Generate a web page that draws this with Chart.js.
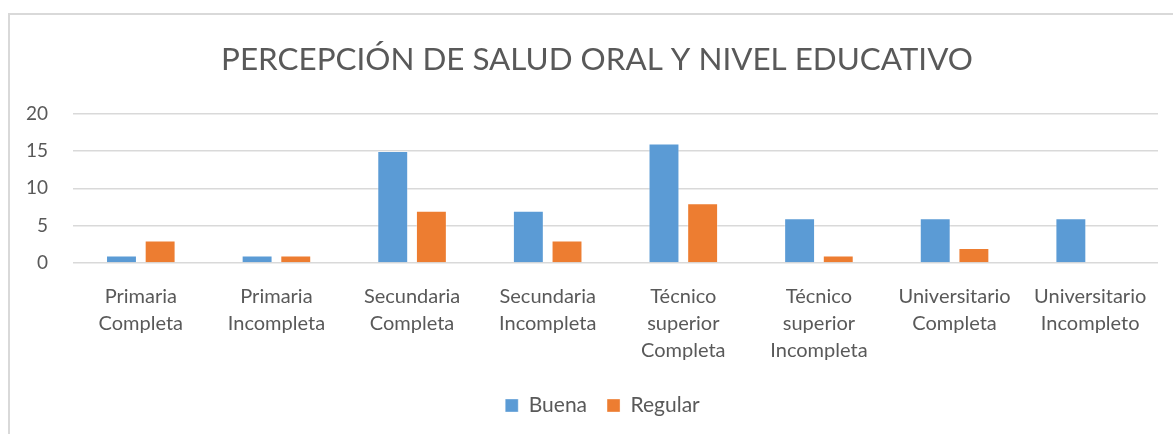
<!DOCTYPE html>
<html>
<head>
<meta charset="utf-8">
<script src="https://cdn.jsdelivr.net/npm/chart.js@4/dist/chart.umd.min.js"></script>
<style>
  html, body { margin: 0; padding: 0; background: #fff; }
  #wrap { position: relative; width: 1173px; height: 434px; }
  canvas { display: block; }
</style>
</head>
<body>
<div id="wrap"><canvas id="c" width="1173" height="434"></canvas></div>
<script>
const categories = [
  ["Primaria", "Completa"],
  ["Primaria", "Incompleta"],
  ["Secundaria", "Completa"],
  ["Secundaria", "Incompleta"],
  ["Técnico", "superior", "Completa"],
  ["Técnico", "superior", "Incompleta"],
  ["Universitario", "Completa"],
  ["Universitario", "Incompleto"]
];
const buena = [1, 1, 15, 7, 16, 6, 6, 6];
const regular = [3, 1, 7, 3, 8, 1, 2, 0];
const seriesNames = ["Buena", "Regular"];
const titleText = "PERCEPCIÓN DE SALUD ORAL Y NIVEL EDUCATIVO";
const yTicks = [0, 5, 10, 15, 20];

const FONT = "Lato, 'Open Sans', sans-serif";
const TXT = "#595959";

const framePlugin = {
  id: "frame",
  afterLayout(chart) {
    // centre title and legend like the original (which centres them over a
    // slightly narrower box than the full canvas)
    if (chart.titleBlock) { chart.titleBlock.left = 36; }
    if (chart.legend) { chart.legend.left = 47; }
  },
  beforeDraw(chart) {
    const ctx = chart.ctx;
    ctx.save();
    ctx.fillStyle = "#fff";
    ctx.fillRect(0, 0, chart.width, chart.height);
    ctx.strokeStyle = "#d9d9d9";
    ctx.lineWidth = 2;
    ctx.beginPath();
    ctx.moveTo(9, chart.height);
    ctx.lineTo(9, 14);
    ctx.lineTo(chart.width, 14);
    ctx.stroke();
    ctx.restore();
  }
};

new Chart(document.getElementById("c"), {
  type: "bar",
  data: {
    labels: categories,
    datasets: [
      { label: seriesNames[0], data: buena, backgroundColor: "#5b9bd5", borderColor: "rgba(255,255,255,0.35)", borderWidth: 1, categoryPercentage: 0.57, barPercentage: 0.8 },
      { label: seriesNames[1], data: regular, backgroundColor: "#ed7d31", borderColor: "rgba(255,255,255,0.35)", borderWidth: 1, categoryPercentage: 0.57, barPercentage: 0.8 }
    ]
  },
  options: {
    responsive: false,
    animation: false,
    devicePixelRatio: 1,
    layout: { padding: { left: 0, right: 15, top: 0, bottom: 8 } },
    plugins: {
      title: {
        display: true,
        text: titleText,
        color: TXT,
        font: { family: FONT, size: 31.4, weight: "normal", lineHeight: 1.2 },
        padding: { top: 41, bottom: 35 }
      },
      legend: {
        display: true,
        position: "bottom",
        labels: {
          color: TXT,
          font: { family: FONT, size: 21 },
          boxWidth: 13,
          boxHeight: 13,
          padding: 20
        }
      },
      tooltip: { enabled: false }
    },
    scales: {
      x: {
        grid: { display: false, drawTicks: false },
        border: { display: false },
        ticks: { color: TXT, font: { family: FONT, size: 20, lineHeight: 1.35 }, padding: 20, maxRotation: 0, autoSkip: false },
        afterFit(s) { s.height = 112; }
      },
      y: {
        min: 0, max: 20,
        afterBuildTicks(s) { s.ticks = yTicks.map(v => ({ value: v })); },
        grid: { color: "#d9d9d9", lineWidth: 1.5, drawTicks: false },
        border: { display: false },
        ticks: { color: TXT, font: { family: FONT, size: 19 }, padding: 25 },
        afterFit(s) { s.width = 73; }
      }
    }
  },
  plugins: [framePlugin]
});
</script>
</body>
</html>
